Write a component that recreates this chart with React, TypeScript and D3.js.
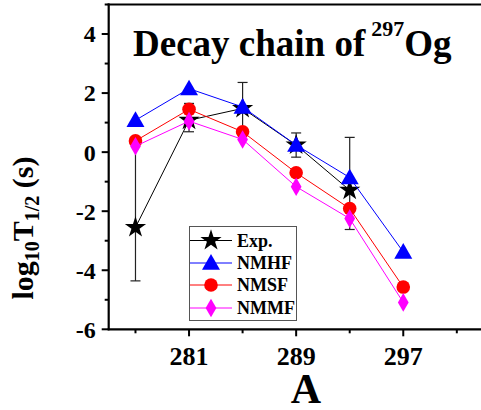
import React from "react";
import * as d3 from "d3";

const massNumbers = [277, 281, 285, 289, 293, 297];
const expA = [277, 281, 285, 289, 293];
const expValues = [-2.55, 1.08, 1.48, 0.24, -1.29];
const expLow = [-4.36, 0.69, 0.6, -0.17, -2.62];
const expHigh = [0.3, 1.65, 2.36, 0.65, 0.5];
const nmhfValues = [1.08, 2.15, 1.53, 0.24, -0.86, -3.38];
const nmsfValues = [0.38, 1.45, 0.69, -0.7, -1.91, -4.57];
const nmmfValues = [0.2, 1.05, 0.43, -1.17, -2.25, -5.09];
const xTickLabels = [281, 289, 297];
const xMinorTicks = [277, 285, 293, 301];
const yTickLabels = [-6, -4, -2, 0, 2, 4];
const yMinorTicks = [-5, -3, -1, 1, 3, 5];

const W = 481;
const H = 410;
const FONT = "Liberation Serif, Times New Roman, DejaVu Serif, serif";
const tf: React.CSSProperties = { fontFamily: FONT, fontWeight: 700 };

export default function App() {
  const x = d3.scaleLinear().domain([275, 303]).range([108.7, 483.6]);
  const y = d3.scaleLinear().domain([-6, 5]).range([329.3, 4.5]);

  const line = (xs: number[], ys: number[]) =>
    d3
      .line<number>()
      .x((_, i) => x(xs[i]))
      .y((v) => y(v))(ys) as string;

  const sym = (type: d3.SymbolType, size: number) =>
    d3.symbol().type(type).size(size)() as string;

  const starPath = sym(d3.symbolStar, 140);
  const triPath = sym(d3.symbolTriangle, 140);
  const circPath = sym(d3.symbolCircle, 145);
  const diaPath = sym(d3.symbolDiamond, 100);

  const series = [
    { name: "NMHF", vals: nmhfValues, color: "#0000FF", path: triPath },
    { name: "NMSF", vals: nmsfValues, color: "#FF0000", path: circPath },
    { name: "NMMF", vals: nmmfValues, color: "#FF00FF", path: diaPath },
  ];

  const legendItems = [
    { name: "Exp.", color: "#000000", path: starPath },
    ...series.map((s) => ({ name: s.name, color: s.color, path: s.path })),
  ];
  const legY = [240.5, 263, 285, 308];

  const x0 = x(275);
  const yb = y(-6);
  const yt = y(5);

  return (
    <svg
      width={W}
      height={H}
      style={{ position: "absolute", left: 0, top: 0, background: "#fff", fontFamily: FONT }}
    >
      <rect x={0} y={0} width={W} height={H} fill="#fff" />
      <path d={line(expA, expValues)} fill="none" stroke="#000" strokeWidth={1} />
      {expA.map((a, i) => (
        <g key={"e" + a} stroke="#222" strokeWidth={1.2}>
          <line x1={x(a)} x2={x(a)} y1={y(expLow[i])} y2={y(expHigh[i])} />
          <line x1={x(a) - 5} x2={x(a) + 5} y1={y(expLow[i])} y2={y(expLow[i])} />
          <line x1={x(a) - 5} x2={x(a) + 5} y1={y(expHigh[i])} y2={y(expHigh[i])} />
        </g>
      ))}
      {expA.map((a, i) => (
        <path
          key={"s" + a}
          d={starPath}
          transform={`translate(${x(a)},${y(expValues[i])})`}
          fill="#000"
        />
      ))}
      {series.map((s) => (
        <g key={s.name}>
          <path d={line(massNumbers, s.vals)} fill="none" stroke={s.color} strokeWidth={1} />
          {s.vals.map((v, i) => (
            <path
              key={i}
              d={s.path}
              transform={`translate(${x(massNumbers[i])},${y(v) + (s.path === triPath ? 1.5 : 0)})`}
              fill={s.color}
            />
          ))}
        </g>
      ))}

      <line x1={x0} x2={x0} y1={yt - 1} y2={yb + 1} stroke="#000" strokeWidth={2.2} />
      <line x1={x0 - 1} x2={W} y1={yb} y2={yb} stroke="#000" strokeWidth={2.2} />
      <line x1={x0 - 1} x2={W} y1={yt} y2={yt} stroke="#000" strokeWidth={2.2} />

      {yTickLabels.map((t) => (
        <g key={"yt" + t}>
          <line x1={x0 - 7} x2={x0} y1={y(t)} y2={y(t)} stroke="#000" strokeWidth={2} />
          <text x={x0 - 13} y={y(t)} dy="0.35em" textAnchor="end" fontSize={24} style={tf}>
            {t}
          </text>
        </g>
      ))}
      {yMinorTicks.map((t) => (
        <line key={"ym" + t} x1={x0 - 4} x2={x0} y1={y(t)} y2={y(t)} stroke="#000" strokeWidth={2} />
      ))}
      {xTickLabels.map((t) => (
        <g key={"xt" + t}>
          <line x1={x(t)} x2={x(t)} y1={yb} y2={yb + 7} stroke="#000" strokeWidth={2} />
          <text x={x(t)} y={365} textAnchor="middle" fontSize={26} style={tf}>
            {t}
          </text>
        </g>
      ))}
      {xMinorTicks.map((t) => (
        <line key={"xm" + t} x1={x(t)} x2={x(t)} y1={yb} y2={yb + 4} stroke="#000" strokeWidth={2} />
      ))}

      <text x={306} y={403} textAnchor="middle" fontSize={42} style={tf}>
        A
      </text>
      <text transform={`translate(33,228) rotate(-90)`} textAnchor="middle" fontSize={30} style={tf}>
        log
        <tspan fontSize={20} dy={6}>10</tspan>
        <tspan dy={-6}>T</tspan>
        <tspan fontSize={20} dy={6}>1/2</tspan>
        <tspan dy={-6}> (s)</tspan>
      </text>

      <text x={133} y={56} fontSize={37} style={tf}>
        Decay chain of
        <tspan fontSize={22} dy={-20} dx={6}>297</tspan>
        <tspan dy={20}>Og</tspan>
      </text>

      <rect x={189.5} y={226.5} width={107} height={94} fill="#fff" stroke="#555" strokeWidth={1} />
      {legendItems.map((it, i) => (
        <g key={"lg" + it.name}>
          <line x1={190} x2={232} y1={legY[i]} y2={legY[i]} stroke={it.color} strokeWidth={1} />
          <path
            d={it.path}
            transform={`translate(211,${legY[i] + (it.path === triPath ? 1.5 : 0)})`}
            fill={it.color}
          />
          <text x={237} y={legY[i]} dy="0.35em" fontSize={18} style={tf}>
            {it.name}
          </text>
        </g>
      ))}
    </svg>
  );
}
